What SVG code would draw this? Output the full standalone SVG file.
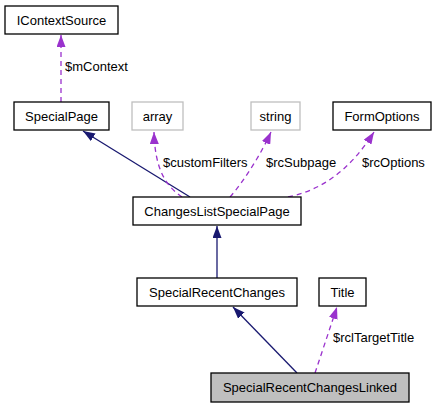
<svg xmlns="http://www.w3.org/2000/svg" width="436" height="408" viewBox="0 0 436 408">
<style>
.n rect{fill:#fff;stroke:#000;stroke-width:1.3}
.n.g rect{stroke:#bfbfbf}
.n.h rect{fill:#bfbfbf}
text{font-family:"Liberation Sans",Arial,sans-serif;font-size:13px;fill:#000}
.n text{text-anchor:middle}
.inh{fill:none;stroke:#191970;stroke-width:1.3;marker-end:url(#mb)}
.use{fill:none;stroke:#9a32cd;stroke-width:1.3;stroke-dasharray:5,4;marker-end:url(#mp)}
</style>
<defs>
<marker id="mb" viewBox="0 0 12 9" refX="12" refY="4.5" markerWidth="12" markerHeight="9" markerUnits="userSpaceOnUse" orient="auto"><path d="M0,0L12,4.5L0,9z" fill="#191970"/></marker>
<marker id="mp" viewBox="0 0 12 9" refX="12" refY="4.5" markerWidth="12" markerHeight="9" markerUnits="userSpaceOnUse" orient="auto"><path d="M0,0L12,4.5L0,9z" fill="#9a32cd"/></marker>
</defs>
<g id="edges">
<path class="use" d="M61,102L61,35"/>
<path class="inh" d="M190,197L83,131"/>
<path class="use" d="M182,197C166,186 155,170 154,132"/>
<path class="use" d="M230,197C245,180 262,152 271,132"/>
<path class="use" d="M288,197C322,190 350,170 374,132"/>
<path class="inh" d="M217,278L217,226"/>
<path class="inh" d="M297,373L233,307"/>
<path class="use" d="M315,373L337,307"/>
<text x="65" y="71">$mContext</text>
<text x="163" y="167">$customFilters</text>
<text x="266" y="167">$rcSubpage</text>
<text x="362" y="167">$rcOptions</text>
<text x="333" y="342">$rclTargetTitle</text>
</g>
<g id="IContextSource" class="n"><rect x="5" y="6" width="113" height="28"/><text x="61.5" y="24.5">IContextSource</text></g>
<g id="SpecialPage" class="n"><rect x="14" y="102" width="95" height="28"/><text x="61.5" y="120.5">SpecialPage</text></g>
<g id="array" class="n g"><rect x="132" y="102" width="51" height="28"/><text x="157.5" y="120.5">array</text></g>
<g id="string" class="n g"><rect x="251" y="102" width="49" height="28"/><text x="275.5" y="120.5">string</text></g>
<g id="FormOptions" class="n"><rect x="333" y="102" width="98" height="28"/><text x="382" y="120.5">FormOptions</text></g>
<g id="ChangesListSpecialPage" class="n"><rect x="133" y="197" width="168" height="28"/><text x="217" y="215.5">ChangesListSpecialPage</text></g>
<g id="SpecialRecentChanges" class="n"><rect x="137" y="278" width="160" height="28"/><text x="217" y="296.5">SpecialRecentChanges</text></g>
<g id="Title" class="n"><rect x="319" y="278" width="47" height="28"/><text x="342.5" y="296.5">Title</text></g>
<g id="SpecialRecentChangesLinked" class="n h"><rect x="211" y="373" width="198" height="29"/><text x="310" y="392">SpecialRecentChangesLinked</text></g>
</svg>
